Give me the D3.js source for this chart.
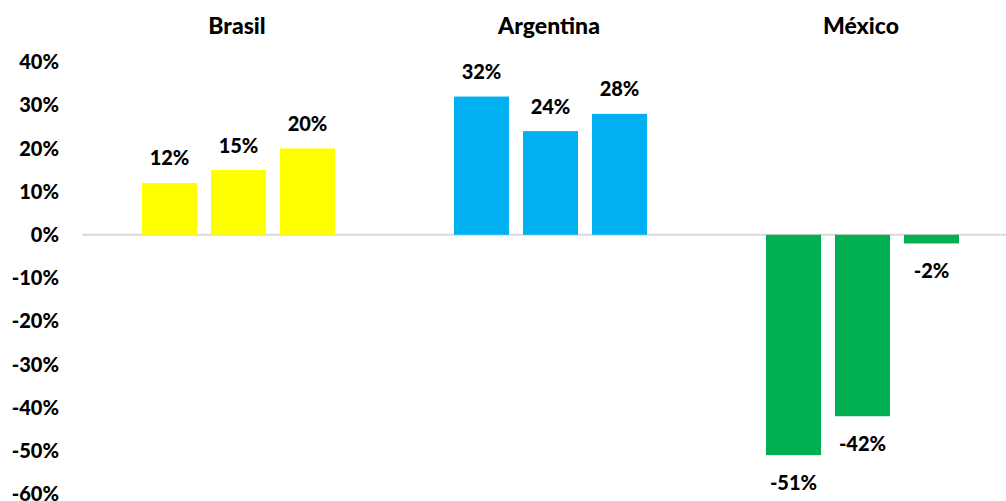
<!DOCTYPE html>
<html>
<head>
<meta charset="utf-8">
<script src="https://cdn.jsdelivr.net/npm/d3@7"></script>
<style>
  html, body { margin: 0; padding: 0; background: #fff; }
  svg { display: block; }
  text { font-family: Lato, "Open Sans", sans-serif; font-weight: 900; fill: #000; }
</style>
</head>
<body>
<svg id="chart" width="1006" height="501"></svg>
<script>
// Countries and their three bars each (percent values)
const countries = ["Brasil", "Argentina", "México"];
const brasil = [12, 15, 20];
const argentina = [32, 24, 28];
const mexico = [-51, -42, -2];
const colors = ["#FFFF00", "#00B0F0", "#00B050"];
const yTicks = [40, 30, 20, 10, 0, -10, -20, -30, -40, -50, -60];

const seriesByCountry = [brasil, argentina, mexico];

const svg = d3.select("#chart");

const x = d3.scaleBand()
  .domain(countries)
  .range([82.5, 1018.5])
  .paddingInner(0)
  .paddingOuter(0);

const y = d3.scaleLinear()
  .domain([-60, 40])
  .range([494, 62]);

// inner band for the three bars inside each category
const inner = d3.scaleBand()
  .domain([0, 1, 2])
  .range([59.5, x.bandwidth() - 59.5])
  .paddingInner(14 / 69)
  .paddingOuter(0);

// y axis labels (no axis line, no ticks)
const yAxis = d3.axisLeft(y).tickValues(yTicks).tickSize(0).tickPadding(0)
  .tickFormat(d => d + "%");
const gy = svg.append("g").attr("transform", "translate(59,0)").call(yAxis);
gy.select(".domain").remove();
gy.selectAll("text")
  .attr("font-size", 20)
  .attr("font-family", null)
  .attr("dy", "0.33em")
  .attr("fill", "#000");

// zero line
svg.append("line")
  .attr("x1", x.range()[0]).attr("x2", 1006)
  .attr("y1", y(0)).attr("y2", y(0))
  .attr("stroke", "#D9D9D9").attr("stroke-width", 2);

// category titles at the top
svg.selectAll("text.title")
  .data(countries)
  .join("text")
  .attr("class", "title")
  .attr("x", d => x(d) + x.bandwidth() / 2 - 1.5)
  .attr("y", 34)
  .attr("text-anchor", "middle")
  .attr("font-size", 23)
  .text(d => d);

// bars and value labels
const groups = svg.selectAll("g.country")
  .data(countries.map((c, i) => ({ name: c, values: seriesByCountry[i], color: colors[i] })))
  .join("g")
  .attr("class", "country")
  .attr("transform", d => `translate(${x(d.name)},0)`);

groups.selectAll("rect")
  .data(d => d.values.map((v, j) => ({ v, j, color: d.color })))
  .join("rect")
  .attr("x", d => inner(d.j))
  .attr("width", inner.bandwidth())
  .attr("y", d => y(Math.max(0, d.v)))
  .attr("height", d => Math.abs(y(d.v) - y(0)))
  .attr("fill", d => d.color);

groups.selectAll("text.val")
  .data(d => d.values.map((v, j) => ({ v, j })))
  .join("text")
  .attr("class", "val")
  .attr("x", d => inner(d.j) + inner.bandwidth() / 2)
  .attr("y", d => d.v >= 0 ? y(d.v) - 17.5 : y(d.v) + 34.5)
  .attr("text-anchor", "middle")
  .attr("font-size", 20)
  .text(d => d.v + "%");
</script>
</body>
</html>
